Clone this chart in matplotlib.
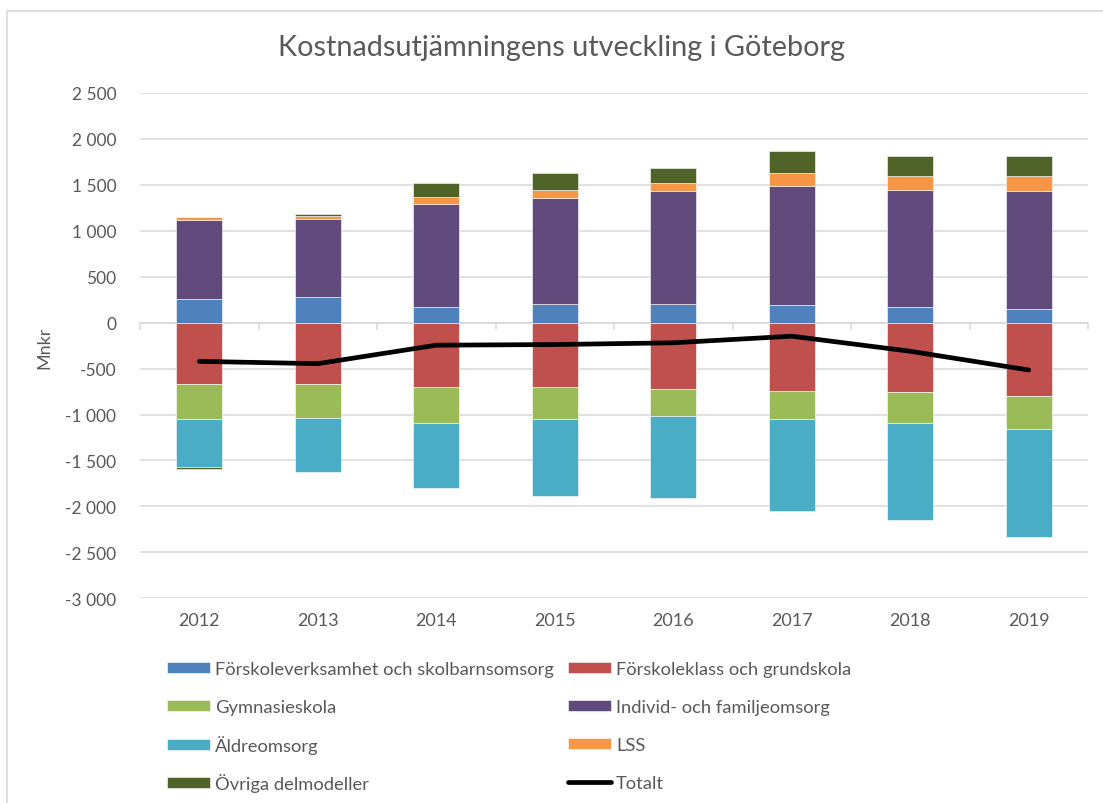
import matplotlib
matplotlib.use("Agg")
import matplotlib.pyplot as plt
from matplotlib.patches import Rectangle
from matplotlib.ticker import FuncFormatter, MultipleLocator
import numpy as np

plt.rcParams['font.family'] = ['Lato', 'DejaVu Sans']

years = ["2012", "2013", "2014", "2015", "2016", "2017", "2018", "2019"]

forskoleverksamhet = [263, 281, 168, 208, 208, 190, 168, 149]
forskoleklass = [-662, -662, -701, -701, -724, -742, -756, -797]
gymnasieskola = [-390, -372, -392, -351, -292, -310, -337, -365]
individ = [850, 851, 1129, 1147, 1220, 1293, 1279, 1279]
aldreomsorg = [-519, -592, -701, -833, -888, -998, -1052, -1169]
lss = [38, 30, 73, 92, 91, 150, 149, 168]
ovriga = [-18, 25, 153, 186, 169, 241, 223, 223]
totalt = [-421, -446, -245, -238, -219, -147, -311, -515]

series_names = [
    "Förskoleverksamhet och skolbarnsomsorg",
    "Förskoleklass och grundskola",
    "Gymnasieskola",
    "Individ- och familjeomsorg",
    "Äldreomsorg",
    "LSS",
    "Övriga delmodeller",
]
series_values = [forskoleverksamhet, forskoleklass, gymnasieskola, individ,
                 aldreomsorg, lss, ovriga]
colors = ["#4F81BD", "#C0504D", "#9BBB59", "#604A7B", "#4BACC6", "#F79646", "#4F6228"]

TXT = "#595959"
GRID = "#D9D9D9"
W, H = 1103, 804

fig = plt.figure(figsize=(W / 100, H / 100), dpi=100)
fig.patches.append(Rectangle((7 / W, -0.01), 1.1, 1 - 12 / H + 0.01,
                             transform=fig.transFigure, fill=False,
                             edgecolor=GRID, linewidth=1.2))

ax = fig.add_axes([140 / W, 1 - 599.3 / H, (1088 - 140) / W, (599.3 - 94) / H])

x = np.arange(len(years))
width = 0.39
pos_bottom = np.zeros(len(years))
neg_bottom = np.zeros(len(years))
containers = []
for name, vals, c in zip(series_names, series_values, colors):
    v = np.array(vals, dtype=float)
    bottoms = np.where(v >= 0, pos_bottom, neg_bottom)
    bc = ax.bar(x, v, width, bottom=bottoms, color=c, edgecolor="white",
                linewidth=0.4, zorder=3, label=name)
    containers.append(bc)
    pos_bottom += np.where(v >= 0, v, 0)
    neg_bottom += np.where(v < 0, v, 0)

line, = ax.plot(x, totalt, color="black", linewidth=3.4, solid_capstyle="round",
                solid_joinstyle="round", zorder=4, label="Totalt")

ax.set_xlim(-0.5, len(years) - 0.5)
ax.set_ylim(-3000, 2500)
ax.yaxis.set_major_locator(MultipleLocator(500))
ax.yaxis.set_major_formatter(FuncFormatter(lambda v, p: f"{int(v):,}".replace(",", " ")))
ax.grid(axis="y", color=GRID, linewidth=1.1, zorder=0)
ax.tick_params(axis="y", length=0, pad=17, labelsize=12.5, labelcolor=TXT)

for s in ["left", "right", "top"]:
    ax.spines[s].set_visible(False)
ax.spines["bottom"].set_position(("data", 0))
ax.spines["bottom"].set_color(GRID)
ax.spines["bottom"].set_linewidth(1.1)
ax.spines["bottom"].set_zorder(1)
ax.set_xticks(x)
ax.set_xticklabels([])
ax.tick_params(axis="x", which="major", length=0)
ax.set_xticks(np.arange(len(years) + 1) - 0.5, minor=True)
ax.tick_params(axis="x", which="minor", length=5, color=GRID, width=1.1, direction="out")

sec = ax.secondary_xaxis(0)
sec.set_xticks(x)
sec.set_xticklabels(years)
sec.tick_params(length=0, pad=10, labelsize=13, labelcolor=TXT)
sec.spines["bottom"].set_visible(False)

ax.set_ylabel("Mnkr", fontsize=13, color=TXT)
ax.yaxis.set_label_coords((52 - 140) / (1088 - 140), (599.3 - 348) / (599.3 - 94))

fig.text(561 / W, 1 - 48 / H, "Kostnadsutjämningens utveckling i Göteborg",
         ha="center", va="center", fontsize=20.8, color=TXT)

# legend: Excel style, row-wise two columns with uniform spacing
handles = containers + [line]
labels = series_names + ["Totalt"]
fs = 13.2
fs_px = fs / 72 * 100
col_x = [167, 568]
row_y = [670, 708, 746, 784]
for i, (h, lab) in enumerate(zip(handles, labels)):
    r, cidx = divmod(i, 2)
    lg = fig.legend([h], [lab], loc="center left",
                    bbox_to_anchor=(col_x[cidx] / W, 1 - row_y[r] / H),
                    frameon=False, fontsize=fs, labelcolor=TXT,
                    handlelength=43 / fs_px, handleheight=10 / fs_px,
                    handletextpad=5 / fs_px, borderpad=0, borderaxespad=0)

fig.savefig("out.png", dpi=100)
